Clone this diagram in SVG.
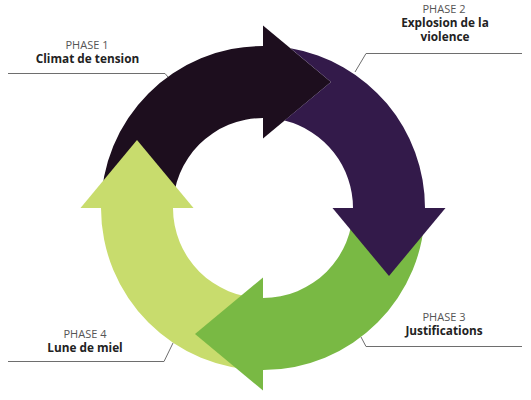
<svg xmlns="http://www.w3.org/2000/svg" width="531" height="400" viewBox="0 0 531 400">
<style>
.bg{fill:#ffffff}
.p1{fill:#1d0e1e}
.p2{fill:#331a4a}
.p3{fill:#79b944}
.p4{fill:#c8dc6d}
.lead{fill:none;stroke:#6e6e6e;stroke-width:1}
.t1{font-family:"Open Sans","Liberation Sans",sans-serif;font-size:11px;fill:#555555;text-anchor:middle}
.t2{font-family:"Open Sans","Liberation Sans",sans-serif;font-size:11.8px;font-weight:bold;fill:#222222;text-anchor:middle}
</style>
<rect class="bg" x="0" y="0" width="531" height="400"/>
<g id="connectors">
<polyline class="lead" points="8,73.5 165,73.5 168,77"/>
<polyline class="lead" points="522,53.5 366,53.5 355,72"/>
<polyline class="lead" points="522,346.5 366,346.5 361,337"/>
<polyline class="lead" points="8,361.5 164,361.5 173,343"/>
</g>
<g id="phase1">
<path class="p1" d="M101,208 A162,162 0 0 1 263,46 L263,118 A90,90 0 0 0 173,208 Z"/>
<path class="p1" d="M263,25.5 L331,82 L263,138.5 Z"/>
<text class="t1" x="87" y="49">PHASE 1</text>
<text class="t2" x="87.5" y="62.5">Climat de tension</text>
</g>
<g id="phase4">
<path class="p4" d="M263,370 A162,162 0 0 1 101,208 L173,208 A90,90 0 0 0 263,298 Z"/>
<path class="p4" d="M80.5,208 L137,140 L193.5,208 Z"/>
<text class="t1" x="85" y="338">PHASE 4</text>
<text class="t2" x="85" y="351.5">Lune de miel</text>
</g>
<g id="phase3">
<path class="p3" d="M425,208 A162,162 0 0 1 263,370 L263,298 A90,90 0 0 0 353,208 Z"/>
<path class="p3" d="M263,277.5 L195,334 L263,390.5 Z"/>
<text class="t1" x="444" y="321">PHASE 3</text>
<text class="t2" x="444" y="334.5">Justifications</text>
</g>
<g id="phase2">
<path class="p2" d="M290.5,48.35 A162,162 0 0 1 425,208 L353,208 A90,90 0 0 0 284.5,120.6 L331,82 Z"/>
<path class="p2" d="M332.5,208 L445.5,208 L389,276 Z"/>
<text class="t1" x="444" y="13">PHASE 2</text>
<text class="t2" x="445" y="27">Explosion de la</text>
<text class="t2" x="445" y="40.5">violence</text>
</g>
</svg>
